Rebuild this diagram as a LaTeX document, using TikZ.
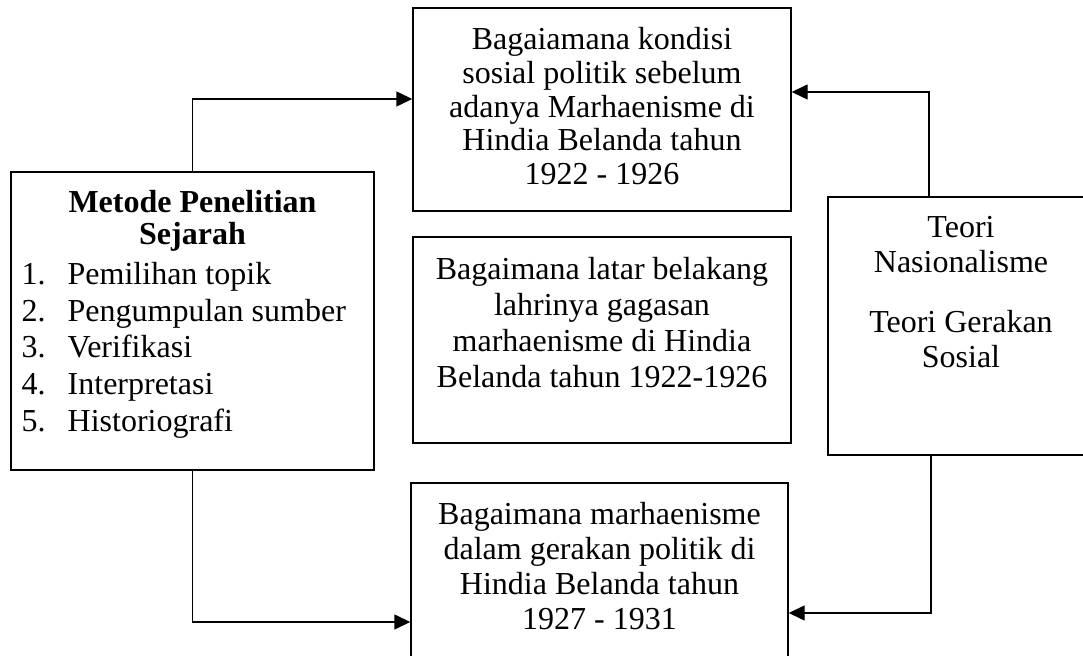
\documentclass[tikz,border=0pt]{standalone}
\usepackage{fontspec}
\setmainfont{Liberation Serif}
\usetikzlibrary{calc,arrows.meta}

\tikzset{
    kotak/.style={draw, line width=0.7pt, inner sep=0pt},
    teks/.style={anchor=north, inner sep=0pt, align=center},
    panah/.style={line width=0.7pt, -{Triangle[length=8pt,width=7.5pt]}}
}

\begin{document}
\begin{tikzpicture}[x=0.5pt, y=-0.5pt]

    % Batas gambar (1 satuan = 1 piksel)
    \clip (0,0) rectangle (1083,656);

    % --- Kotak-kotak ---
    \node[kotak, minimum width=181.5pt, minimum height=149pt] (metode) at (192.5,321) {};
    \node[kotak, minimum width=189pt, minimum height=101.5pt] (rumusan1) at (602,109.5) {};
    \node[kotak, minimum width=189pt, minimum height=103pt] (rumusan2) at (602,340) {};
    \node[kotak, minimum width=188.5pt, minimum height=103.5pt] (rumusan3) at (599.5,586.5) {};
    \node[kotak, minimum width=129pt, minimum height=129pt] (teori) at (957,326) {};

    % --- Isi metode penelitian ---
    \node[teks, font=\bfseries\fontsize{16pt}{16pt}\selectfont] (judul) at ($(metode.north)+(0,19)$)
        {Metode Penelitian\\ Sejarah};
    \foreach \i/\langkah in {1/Pemilihan topik, 2/Pengumpulan sumber, 3/Verifikasi,
                             4/Interpretasi, 5/Historiografi}{
        \node[anchor=base west, inner sep=0pt, font=\fontsize{16pt}{17.5pt}\selectfont]
            (no\i) at ($(metode.north west)+(11,113+36.75*\i-36.75)$) {\i.};
        \node[anchor=base west, inner sep=0pt, font=\fontsize{16pt}{17.5pt}\selectfont]
            (langkah\i) at ($(no\i.base west)+(46,0)$) {\langkah};
    }

    % --- Isi rumusan masalah ---
    \node[teks, font=\fontsize{16pt}{16.85pt}\selectfont] (teks1) at ($(rumusan1.north)+(0,20)$)
        {Bagaiamana kondisi\\ sosial politik sebelum\\ adanya Marhaenisme di\\ Hindia Belanda tahun\\ 1922 - 1926};
    \node[teks, font=\fontsize{16pt}{18pt}\selectfont] (teks2) at ($(rumusan2.north)+(0,21)$)
        {Bagaimana latar belakang\\ lahrinya gagasan\\ marhaenisme di Hindia\\ Belanda tahun 1922-1926};
    \node[teks, font=\fontsize{16pt}{17.5pt}\selectfont] (teks3) at ($(rumusan3.north)+(0,20)$)
        {Bagaimana marhaenisme\\ dalam gerakan politik di\\ Hindia Belanda tahun\\ 1927 - 1931};

    % --- Isi teori ---
    \node[teks, font=\fontsize{16pt}{17.5pt}\selectfont] (teksteori) at ($(teori.north)+(4,20)$)
        {Teori\\ Nasionalisme\\[12.5pt] Teori Gerakan\\ Sosial};

    % --- Panah ---
    \draw[panah] (metode.north) |- ($(rumusan1.west)+(0,-10.5)$);
    \draw[panah] ($(teori.north)+(-28,0)$) |- ($(rumusan1.east)+(0,-17.5)$);
    \draw[panah] (metode.south) |- ($(rumusan3.west)+(0,35.5)$);
    \draw[panah] ($(teori.south)+(-26,0)$) |- ($(rumusan3.east)+(0,26.5)$);

\end{tikzpicture}
\end{document}
